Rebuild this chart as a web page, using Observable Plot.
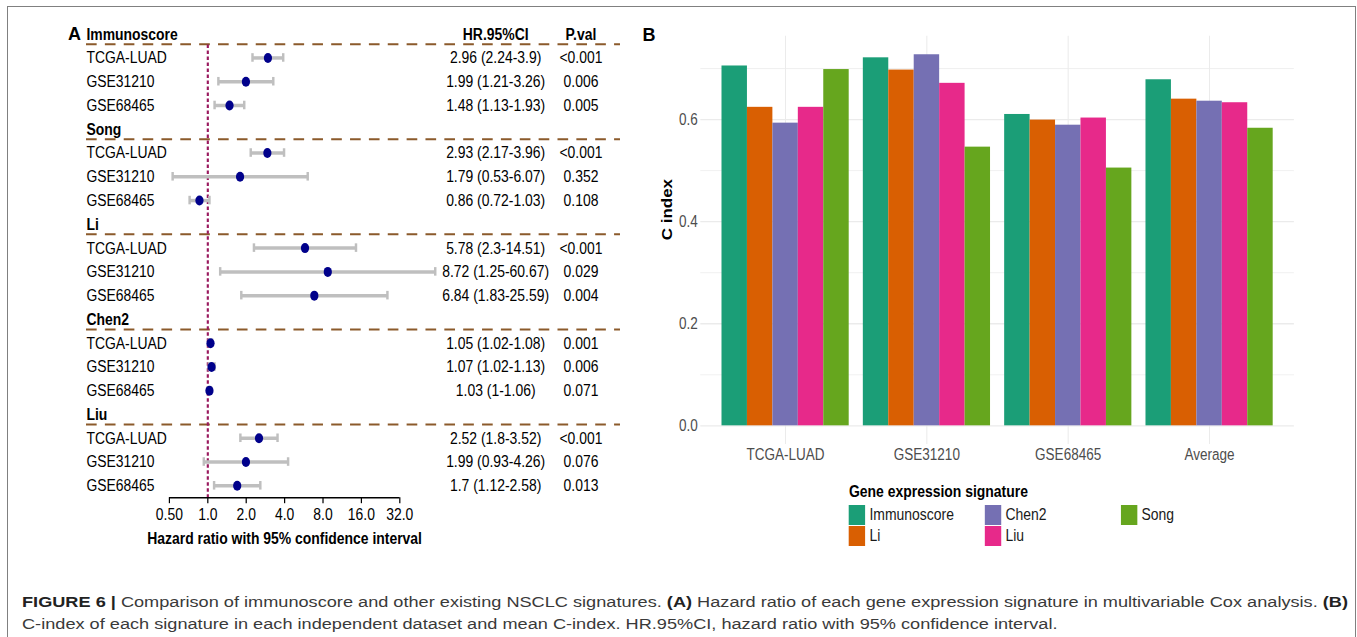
<!DOCTYPE html>
<html><head><meta charset="utf-8">
<script src="https://cdn.jsdelivr.net/npm/d3@7"></script>
<script src="https://cdn.jsdelivr.net/npm/@observablehq/plot@0.6"></script>
<style>
html,body{margin:0;padding:0;background:#fff;}
body{width:1357px;height:637px;overflow:hidden;position:relative;font-family:"Liberation Sans",Arial,sans-serif;}
#frame{position:absolute;left:6.5px;top:6px;width:1349.5px;height:720px;border:1.5px solid #808080;box-sizing:border-box;}
#squish{position:absolute;left:0;top:0;height:560px;transform-origin:0 0;}
#squish svg{position:absolute;top:0;}
.lab{position:absolute;font-weight:bold;font-size:18px;line-height:20px;color:#000;}
#caption{position:absolute;left:22px;top:591px;font-size:15.5px;line-height:22px;color:#3a3a3a;white-space:nowrap;transform-origin:0 0;}
#caption b{color:#222;}
.leg{position:absolute;font-size:17px;line-height:20px;color:#1a1a1a;white-space:nowrap;}
</style></head><body>
<div id="frame"></div>
<div id="squish"></div>
<div class="lab" style="left:68px;top:24px;">A</div>
<div class="lab" style="left:642.5px;top:25px;">B</div>
<div id="caption"><span id="cap1"><b>FIGURE 6 |</b> Comparison of immunoscore and other existing NSCLC signatures. <b>(A)</b> Hazard ratio of each gene expression signature in multivariable Cox analysis. <b>(B)</b></span><br><span>C-index of each signature in each independent dataset and mean C-index. HR.95%CI, hazard ratio with 95% confidence interval.</span></div>
<script>
// ---------- data: panel A (forest plot) ----------
const signatures = ["Immunoscore", "Song", "Li", "Chen2", "Liu"];
const datasets = ["TCGA-LUAD", "GSE31210", "GSE68465"];
const hrValues = [[2.96, 1.99, 1.48], [2.93, 1.79, 0.86], [5.78, 8.72, 6.84], [1.05, 1.07, 1.03], [2.52, 1.99, 1.7]];
const hrLower  = [[2.24, 1.21, 1.13], [2.17, 0.53, 0.72], [2.3, 1.25, 1.83], [1.02, 1.02, 1], [1.8, 0.93, 1.12]];
const hrUpper  = [[3.9, 3.26, 1.93], [3.96, 6.07, 1.03], [14.51, 60.67, 25.59], [1.08, 1.13, 1.06], [3.52, 4.26, 2.58]];
const pValues  = [["<0.001", "0.006", "0.005"], ["<0.001", "0.352", "0.108"], ["<0.001", "0.029", "0.004"], ["0.001", "0.006", "0.071"], ["<0.001", "0.076", "0.013"]];
const tableColumns = ["HR.95%CI", "P.val"];
const xTicksA = [0.5, 1, 2, 4, 8, 16, 32];
const xTickLabelsA = ["0.50", "1.0", "2.0", "4.0", "8.0", "16.0", "32.0"];
const xTitleA = "Hazard ratio with 95% confidence interval";

// ---------- data: panel B (C index bars) ----------
const groups = ["TCGA-LUAD", "GSE31210", "GSE68465", "Average"];
const barSignatures = ["Immunoscore", "Li", "Chen2", "Liu", "Song"];
const barColors = ["#1B9E77", "#D95F02", "#7570B3", "#E7298A", "#66A61E"];
const cImmunoscore = [0.705, 0.721, 0.610, 0.678];
const cLi          = [0.624, 0.697, 0.599, 0.640];
const cChen2       = [0.593, 0.727, 0.589, 0.636];
const cLiu         = [0.624, 0.671, 0.603, 0.633];
const cSong        = [0.698, 0.546, 0.505, 0.583];
const yMajorB = [0, 0.2, 0.4, 0.6];
const yMinorB = [0.1, 0.3, 0.5, 0.7];
const yTitleB = "C index";
const legendTitle = "Gene expression signature";

// ---------- layout ----------
const S = 0.82;              // horizontal compression of the original figure
const P = v => v / S;        // page x -> pre-compression x
const font = '"Liberation Sans", Arial, sans-serif';
const baseStyle = {fontFamily: font, background: "none", maxWidth: "none", overflow: "visible", color: "#000"};

const squish = document.getElementById("squish");
squish.style.width = P(1357) + "px";
squish.style.transform = `scaleX(${S})`;

// rows of the forest table
const rows = [];
signatures.forEach((sig, si) => {
  rows.push({i: rows.length, kind: "header", label: sig});
  datasets.forEach((ds, di) => {
    rows.push({i: rows.length, kind: "data", label: ds, hr: hrValues[si][di], lo: hrLower[si][di], hi: hrUpper[si][di], p: pValues[si][di]});
  });
});
const headers = rows.filter(d => d.kind === "header");
const dataRows = rows.filter(d => d.kind === "data");
const n = rows.length;

const WA = P(640), HA = 560;
const yA = {domain: [-0.5, n - 0.5], range: [21.8, 497.2], axis: null};
const layoutA = {width: WA, height: HA, marginLeft: P(86), marginRight: WA - P(620), marginTop: 44, marginBottom: HA - 497.2};
const ciStyle = {stroke: "#bfbfbf", strokeWidth: 3};

const plotA = Plot.plot({
  ...layoutA,
  x: {type: "log", base: 2, domain: [xTicksA[0], xTicksA[xTicksA.length - 1]], range: [P(169), P(399.4)], axis: null},
  y: yA,
  style: {...baseStyle, fontSize: "17px"},
  marks: [
    Plot.ruleY(headers, {y: d => d.i + 0.42, stroke: "#8b5a2b", strokeWidth: 2, strokeDasharray: "13,10"}),
    Plot.ruleX([1], {y1: 0.45, y2: n - 0.5, stroke: "#99195e", strokeWidth: 2.6, strokeDasharray: "3.5,2.5"}),
    Plot.ruleY(dataRows, {y: "i", x1: "lo", x2: "hi", stroke: "#bfbfbf", strokeWidth: 3.5}),
    Plot.ruleX(dataRows, {x: "lo", y1: d => d.i - 0.18, y2: d => d.i + 0.18, ...ciStyle}),
    Plot.ruleX(dataRows, {x: "hi", y1: d => d.i - 0.18, y2: d => d.i + 0.18, ...ciStyle}),
    Plot.dot(dataRows, {x: "hr", y: "i", r: 5, fill: "#00008b", stroke: null}),
    Plot.text(dataRows, {y: "i", text: "label", frameAnchor: "left", textAnchor: "start", fontSize: 17, fill: "#000"}),
    Plot.text(headers, {y: "i", text: "label", frameAnchor: "left", textAnchor: "start", fontSize: 17, fontWeight: "bold", fill: "#000"}),
    Plot.ruleY([n - 0.5], {x1: xTicksA[0], x2: xTicksA[xTicksA.length - 1], stroke: "#000", strokeWidth: 1.5}),
    Plot.axisX({ticks: xTicksA, tickFormat: d => xTickLabelsA[xTicksA.indexOf(d)], tickSize: 6, tickPadding: 4, strokeWidth: 1.5, fontSize: 17, color: "#000", label: null}),
    Plot.text([xTitleA], {x: Math.sqrt(xTicksA[0] * xTicksA[xTicksA.length - 1]), frameAnchor: "bottom", dy: 46, fontSize: 17, fontWeight: "bold", fill: "#000"})
  ]
});

const plotTable = Plot.plot({
  ...layoutA,
  x: {type: "point", domain: tableColumns, range: [P(495), P(581)], padding: 0, axis: null},
  y: yA,
  style: {...baseStyle, fontSize: "17px"},
  marks: [
    Plot.text(tableColumns, {x: d => d, y: headers[0].i, text: d => d, fontSize: 17, fontWeight: "bold", fill: "#000"}),
    Plot.text(dataRows, {x: () => tableColumns[0], y: "i", text: d => `${d.hr} (${d.lo}-${d.hi})`, fontSize: 17, fill: "#000"}),
    Plot.text(dataRows, {x: () => tableColumns[1], y: "i", text: "p", fontSize: 17, fill: "#000"})
  ]
});

// ---------- panel B ----------
const cValues = {Immunoscore: cImmunoscore, Li: cLi, Chen2: cChen2, Liu: cLiu, Song: cSong};
const bars = groups.flatMap((g, gi) => barSignatures.map(sig => ({group: g, sig, value: cValues[sig][gi]})));
const M = d3.max(bars, d => d.value);
const WB = P(717), HB = 560;
const layoutB = {width: WB, height: HB, marginLeft: P(60.7), marginRight: P(62.7), marginTop: 35.7, marginBottom: HB - 443.9};
const yB = {domain: [-0.05 * M, 1.05 * M]};
const bandB = {domain: groups, paddingInner: 0.1, paddingOuter: 0.15, round: false};

const plotBg = Plot.plot({
  ...layoutB,
  x: {type: "band", ...bandB},
  y: yB,
  style: {...baseStyle, fontSize: "16px"},
  marks: [
    Plot.gridY({ticks: yMinorB, stroke: "#ebebeb", strokeOpacity: 1, strokeWidth: 0.8}),
    Plot.gridY({ticks: yMajorB, stroke: "#ebebeb", strokeOpacity: 1, strokeWidth: 1.3}),
    Plot.gridX({stroke: "#ebebeb", strokeOpacity: 1, strokeWidth: 1.3}),
    Plot.axisY({ticks: yMajorB, tickFormat: d3.format(".1f"), tickSize: 0, tickPadding: P(3), fontSize: 16.5, color: "#4d4d4d", label: null}),
    Plot.axisX({tickSize: 0, tickPadding: 4, fontSize: 16.5, color: "#4d4d4d", label: null}),
    Plot.text([yTitleB], {frameAnchor: "left", rotate: -90, dx: -P(700.7 - 668), fontSize: 17, fontWeight: "bold", fill: "#000"})
  ]
});

const plotBars = Plot.plot({
  ...layoutB,
  fx: {...bandB, axis: null, label: null},
  x: {domain: barSignatures, padding: 0, round: false, axis: null},
  y: {...yB, axis: null},
  color: {domain: barSignatures, range: barColors},
  style: baseStyle,
  marks: [
    Plot.barY(bars, {fx: "group", x: "sig", y: "value", fill: "sig"})
  ]
});

plotA.style.left = "0px";
plotTable.style.left = "0px";
plotBg.style.left = P(640) + "px";
plotBars.style.left = P(640) + "px";
squish.append(plotBg, plotBars, plotA, plotTable);

// ---------- legend (HTML, inside compressed layer) ----------
const lt = document.createElement("div");
lt.className = "leg";
lt.style.cssText = `left:${P(849)}px;top:482px;font-weight:bold;color:#000;`;
lt.textContent = legendTitle;
squish.append(lt);
barSignatures.forEach((sig, k) => {
  const col = Math.floor(k / 2), row = k % 2;
  const key = document.createElement("div");
  key.style.cssText = `position:absolute;left:${P(849 + col * 136)}px;top:${504.5 + row * 21.7}px;width:${P(16.5)}px;height:20px;background:${barColors[k]};`;
  const lab = document.createElement("div");
  lab.className = "leg";
  lab.style.cssText = `left:${P(869.5 + col * 136)}px;top:${504.5 + row * 21.7}px;`;
  lab.textContent = sig;
  squish.append(key, lab);
});

// ---------- fit caption line width (stretch horizontally) ----------
const cap = document.getElementById("caption");
const w = document.getElementById("cap1").getBoundingClientRect().width;
cap.style.transform = `scaleX(${1326 / w})`;
</script>
</body></html>
